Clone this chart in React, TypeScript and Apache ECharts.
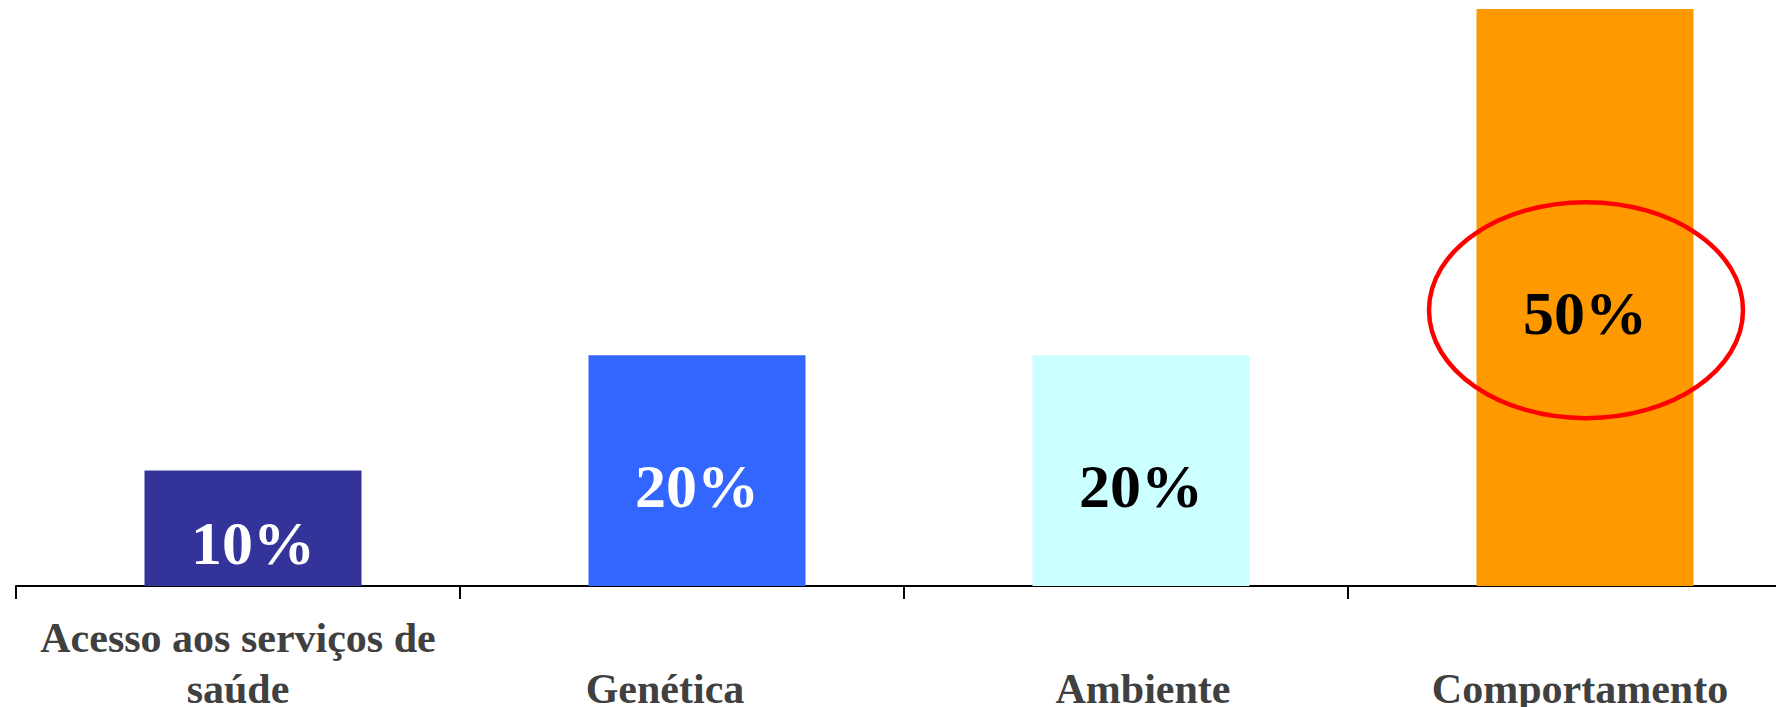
import React, { useEffect, useRef } from "react";
import * as echarts from "echarts";

const categories = [
  "Acesso aos serviços de\nsaúde",
  "Genética",
  "Ambiente",
  "Comportamento",
];
const values = [10, 20, 20, 50];
const barColors = ["#333399", "#3366FF", "#CCFFFF", "#FF9900"];
const valueLabelColors = ["#FFFFFF", "#FFFFFF", "#000000", "#000000"];
const highlightIndex = 3;

export default function App() {
  const ref = useRef<HTMLDivElement>(null);

  useEffect(() => {
    if (!ref.current) return;
    const chart = echarts.init(ref.current, null, { renderer: "svg" });
    const labelPads = [
      [0, 0, 0, 0],
      [0, 34, 0, 0],
      [0, 0, 0, 34],
      [0, 0, 0, 20],
    ];
    const serif = "'Liberation Serif', 'Times New Roman', serif";
    chart.setOption({
      animation: false,
      backgroundColor: "#ffffff",
      grid: [
        { left: 16, top: 9, width: 1776, height: 577, containLabel: false, outerBoundsMode: "none" },
        { left: 31, top: 9, width: 1776, height: 577, containLabel: false, outerBoundsMode: "none" },
      ],
      xAxis: [
        {
          type: "category",
          gridIndex: 0,
          data: categories.map((c, i) => ({
            value: c,
            textStyle: { padding: labelPads[i] },
          })),
          boundaryGap: true,
          axisLine: {
            show: true,
            onZero: false,
            lineStyle: { color: "#000", width: 2 },
          },
          axisTick: {
            show: true,
            length: 13,
            alignWithLabel: false,
            lineStyle: { color: "#000", width: 2 },
          },
          axisLabel: {
            interval: 0,
            margin: 26,
            formatter: (v: string) => (v.indexOf("\n") >= 0 ? v : "\n" + v),
            fontFamily: serif,
            fontWeight: "bold",
            fontSize: 42,
            lineHeight: 51,
            color: "#404040",
          },
          splitLine: { show: false },
        },
        {
          type: "category",
          gridIndex: 1,
          data: categories,
          show: false,
        },
      ],
      yAxis: [
        { type: "value", gridIndex: 0, min: 0, max: 50, show: false, splitLine: { show: false } },
        { type: "value", gridIndex: 1, min: 0, max: 50, show: false, splitLine: { show: false } },
      ],
      series: [
        {
          type: "bar",
          xAxisIndex: 1,
          yAxisIndex: 1,
          barWidth: 217,
          data: values.map((v, i) => ({
            value: v,
            itemStyle: { color: barColors[i] },
            label: { color: valueLabelColors[i] },
          })),
          label: {
            show: true,
            position: "inside",
            offset: [0, 15],
            formatter: "{c}%",
            fontFamily: serif,
            fontWeight: "bold",
            fontSize: 62,
          },
        },
      ],
    });

    const cx = chart.convertToPixel({ xAxisIndex: 1 }, categories[highlightIndex]) as number;
    const cy = chart.convertToPixel({ yAxisIndex: 1 }, values[highlightIndex] * 0.478) as number;
    chart.setOption({
      graphic: [
        {
          type: "ellipse",
          shape: { cx: cx + 1, cy, rx: 157, ry: 108 },
          style: { fill: "none", stroke: "#FF0000", lineWidth: 4.5 },
          z: 100,
        },
      ],
    });

    return () => chart.dispose();
  }, []);

  return (
    <div
      style={{
        position: "fixed",
        left: 0,
        top: 0,
        width: 1776,
        height: 707,
        overflow: "hidden",
        background: "#fff",
      }}
    >
      <div ref={ref} style={{ width: 1830, height: 707 }} />
    </div>
  );
}
